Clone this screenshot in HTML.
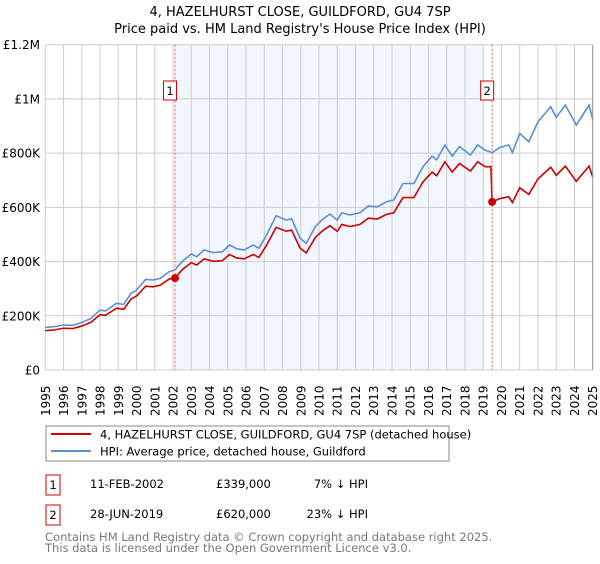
<!DOCTYPE html>
<html><head><meta charset="utf-8"><style>
body{margin:0;background:#fff;font-family:"DejaVu Sans","Liberation Sans",sans-serif;}
svg text{font-family:"DejaVu Sans","Liberation Sans",sans-serif;}
</style></head><body>
<svg id="chart" width="600" height="560" xmlns="http://www.w3.org/2000/svg">
<text x="300" y="16" text-anchor="middle" font-size="13">4, HAZELHURST CLOSE, GUILDFORD, GU4 7SP</text>
<text x="300" y="33" text-anchor="middle" font-size="13">Price paid vs. HM Land Registry's House Price Index (HPI)</text>
<g id="plot"></g>
<g>
<rect x="46" y="426" width="403" height="35" fill="#fff" stroke="#888"/>
<line x1="51" y1="434" x2="91" y2="434" stroke="#cc0000" stroke-width="2"/>
<text x="100" y="438.5" font-size="11.5">4, HAZELHURST CLOSE, GUILDFORD, GU4 7SP (detached house)</text>
<line x1="51" y1="451" x2="91" y2="451" stroke="#5b8fd4" stroke-width="2"/>
<text x="100" y="455.5" font-size="11.5">HPI: Average price, detached house, Guildford</text>
</g>
<g font-size="11.5">
<rect x="46" y="475" width="14" height="20" fill="#fff" stroke="#cc0000"/>
<text x="53" y="489" text-anchor="middle">1</text>
<text x="90" y="488">11-FEB-2002</text>
<text x="216" y="488">£339,000</text>
<text x="368" y="488" text-anchor="end">7% ↓ HPI</text>
<rect x="46" y="505" width="14" height="20" fill="#fff" stroke="#cc0000"/>
<text x="53" y="519" text-anchor="middle">2</text>
<text x="90" y="518">28-JUN-2019</text>
<text x="216" y="518">£620,000</text>
<text x="368" y="518" text-anchor="end">23% ↓ HPI</text>
</g>
<text x="45" y="541" font-size="11.5" fill="#777">Contains HM Land Registry data © Crown copyright and database right 2025.</text>
<text x="45" y="552" font-size="11.5" fill="#777">This data is licensed under the Open Government Licence v3.0.</text>
</svg>
<script>
const hpiYears=[1995.0,1995.5,1996.0,1996.5,1997.0,1997.5,1998.0,1998.3,1998.9,1999.3,1999.7,2000.0,2000.5,2000.9,2001.3,2001.8,2002.1,2002.5,2003.0,2003.3,2003.7,2004.2,2004.7,2005.1,2005.5,2005.9,2006.4,2006.7,2007.1,2007.65,2008.2,2008.5,2008.96,2009.3,2009.8,2010.2,2010.6,2011.0,2011.25,2011.7,2012.25,2012.7,2013.2,2013.7,2014.1,2014.6,2015.2,2015.7,2016.2,2016.45,2016.9,2017.3,2017.7,2018.3,2018.7,2019.1,2019.5,2019.9,2020.4,2020.6,2021.0,2021.5,2022.0,2022.7,2023.0,2023.5,2024.1,2024.8,2025.0];
const hpiValues=[157,160,166,165,175,190,221,218,246,242,283,295,334,332,338,363,369,400,428,418,443,433,436,461,447,443,461,449,494,569,553,558,486,467,529,556,575,553,580,572,580,605,602,621,627,688,688,750,789,775,830,789,824,793,830,811,802,821,830,802,873,842,916,971,932,977,904,977,925];
const propYears=[1995.0,1995.5,1996.0,1996.5,1997.0,1997.5,1998.0,1998.3,1998.9,1999.3,1999.7,2000.0,2000.5,2000.9,2001.3,2001.8,2002.11,2002.5,2003.0,2003.3,2003.7,2004.2,2004.7,2005.1,2005.5,2005.9,2006.4,2006.7,2007.1,2007.65,2008.2,2008.5,2008.96,2009.3,2009.8,2010.2,2010.6,2011.0,2011.25,2011.7,2012.25,2012.7,2013.2,2013.7,2014.1,2014.6,2015.2,2015.7,2016.2,2016.45,2016.9,2017.3,2017.7,2018.3,2018.7,2019.1,2019.42,2019.49,2019.9,2020.4,2020.6,2021.0,2021.5,2022.0,2022.7,2023.0,2023.5,2024.1,2024.8,2025.0];
const propValues=[145,148,154,153,162,176,204,202,228,224,262,273,309,307,313,336,339,370,396,387,410,401,403,426,413,410,426,415,457,526,512,516,450,432,489,514,532,512,537,529,537,560,557,574,580,636,636,694,730,717,768,730,762,734,768,750,750,620,632,639,618,672,648,705,748,718,752,696,752,712];
const saleYears=[2002.11,2019.49];
const saleValues=[339,620];
const saleLabels=["1","2"];
const yTicks=[0,200,400,600,800,1000,1200];
const yTickLabels=["£0","£200K","£400K","£600K","£800K","£1M","£1.2M"];
const xTicks=[1995,1996,1997,1998,1999,2000,2001,2002,2003,2004,2005,2006,2007,2008,2009,2010,2011,2012,2013,2014,2015,2016,2017,2018,2019,2020,2021,2022,2023,2024,2025];

const X0=45.3,X1=592.7,Y0=370,Y1=44.7;
const xs=y=>X0+(y-1995)/30*(X1-X0);
const ys=v=>Y0-v/1200*(Y0-Y1);
const NS="http://www.w3.org/2000/svg";
const g=document.getElementById('plot');
function mk(t,a){const e=document.createElementNS(NS,t);for(const k in a)e.setAttribute(k,a[k]);g.appendChild(e);return e;}

const shade=mk('rect',{x:xs(saleYears[0]),y:Y1,width:xs(2019.05)-xs(saleYears[0]),height:Y0-Y1,fill:'#eef3fd',opacity:0.75});



xTicks.forEach((t,i)=>{
 const l=mk('line',{x1:xs(t),x2:xs(t),y1:Y1,y2:Y0,stroke:'#ccc','stroke-width':1});
 
 
 const tx=mk('text',{x:0,y:0,'font-size':12,transform:`translate(${xs(t)+4.5},${Y0+46}) rotate(-90)`});
 tx.textContent=t;
 
 
});
yTicks.forEach((t,i)=>{
 const l=mk('line',{x1:X0,x2:X1,y1:ys(t),y2:ys(t),stroke:'#ccc','stroke-width':1});
 
 
 const tx=mk('text',{x:40,y:ys(t)+4.5,'font-size':12,'text-anchor':'end'});
 tx.textContent=yTickLabels[i];
 
 
});
const hp=mk('polyline',{points:hpiYears.map((y,i)=>xs(y)+','+ys(hpiValues[i])).join(' '),fill:'none',stroke:'#5b8fd4','stroke-width':1.6});


const pp=mk('polyline',{points:propYears.map((y,i)=>xs(y)+','+ys(propValues[i])).join(' '),fill:'none',stroke:'#cc0000','stroke-width':1.6});


saleYears.forEach((y,i)=>{
 const l=mk('line',{x1:xs(y),x2:xs(y),y1:Y1,y2:Y0,stroke:'#e55','stroke-width':1,'stroke-dasharray':'2,2'});
 
 
 const c=mk('circle',{cx:xs(y),cy:ys(saleValues[i]),r:4,fill:'#cc0000'});
 
 
 const r=mk('rect',{x:xs(y)-11.5,y:81,width:13,height:19,fill:'#fff',stroke:'#cc0000'});
 
 
 const tx=mk('text',{x:xs(y)-5,y:95,'font-size':11.5,'text-anchor':'middle'});
 tx.textContent=saleLabels[i];
 
 
});
const ax=mk('line',{x1:X1,x2:X1,y1:Y1,y2:Y0,stroke:'#999','stroke-width':1});


</script>
</body></html>
